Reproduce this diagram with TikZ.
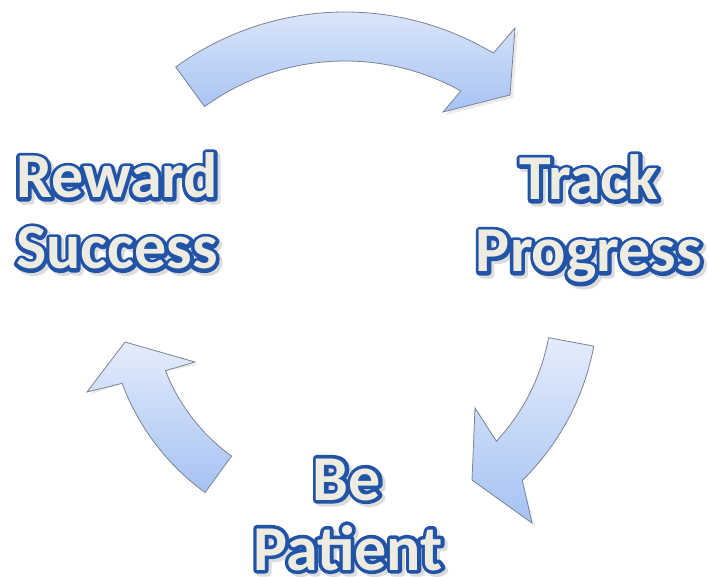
\documentclass[tikz,border=0pt]{standalone}
\usepackage{fontspec}
\usetikzlibrary{calc}
\newfontfamily\lblfont{Carlito Bold}
\definecolor{olblue}{HTML}{2153A6}
\definecolor{cream}{HTML}{EEECE1}
\definecolor{shadowgray}{HTML}{DCDCDC}
\definecolor{arrtop}{HTML}{E4ECFA}
\definecolor{arrbot}{HTML}{A6C2F4}
\definecolor{arredge}{HTML}{7A8496}
\newcommand\strokeon{\special{pdf:literal direct 2 Tr 7.2 w 1 j}}
\newcommand\strokeoff{\special{pdf:literal direct 0 Tr}}
\tikzset{
  lblbase/.style={anchor=base, inner sep=0pt, font=\lblfont\fontsize{64}{70}\selectfont},
  lbltext/.style={lblbase, text=cream},
  lblline/.style={lblbase, text=olblue},
  lblshad/.style={lblbase, text=shadowgray},
  arrowshape/.style={top color=arrtop, bottom color=arrbot, draw=arredge, line width=0.8pt, line join=miter},
  arrowshadow/.style={fill=black, fill opacity=0.08, draw=none},
}
\newcommand\outlined[4]{%
  \node[lblshad] at (#2+3,#3+3) {\strokeon#4\strokeoff};
  \node[lblline] at (#2,#3) {\strokeon#4\strokeoff};
  \node[lbltext] (#1) at (#2,#3) {#4};
}
\newcommand\arrTop{($(c)+(234:288)$) arc[start angle=234, end angle=301, radius=288] -- (515,28) -- (510,95) -- (443,112) -- ($(c)+(299:239)$) arc[start angle=299, end angle=234, radius=239] -- cycle}
\newcommand\arrRight{($(c)+(10.5:253)$) arc[start angle=10.5, end angle=45.5, radius=253] -- (532,523) -- (472,480) -- (475,408) -- ($(c)+(43:207)$) arc[start angle=43, end angle=10.5, radius=207] -- cycle}
\newcommand\arrLeft{($(c)+(126:193)$) arc[start angle=126, end angle=158.5, radius=193] -- (195,362) -- (125,342) -- (87,392) -- ($(c)+(159.5:238)$) arc[start angle=159.5, end angle=126, radius=238] -- cycle}
\begin{document}
\begin{tikzpicture}[x=1pt,y=-1pt]
\useasboundingbox (0,0) rectangle (709,577);
\coordinate (c) at (345,300);
% arrow shadows
\begin{scope}[shift={(3,3)}]
  \path[arrowshadow] \arrTop;
  \path[arrowshadow] \arrRight;
  \path[arrowshadow] \arrLeft;
\end{scope}
% arrows
\path[arrowshape] \arrTop;
\path[arrowshape] \arrRight;
\path[arrowshape] \arrLeft;
% labels
\outlined{reward}{117}{198}{Reward}
\outlined{success}{117}{269}{Success}
\outlined{track}{589}{200}{Track}
\outlined{progress}{589}{272}{Progress}
\outlined{be}{347}{500}{Be}
\outlined{patient}{348}{570}{Patient}
\end{tikzpicture}
\end{document}
